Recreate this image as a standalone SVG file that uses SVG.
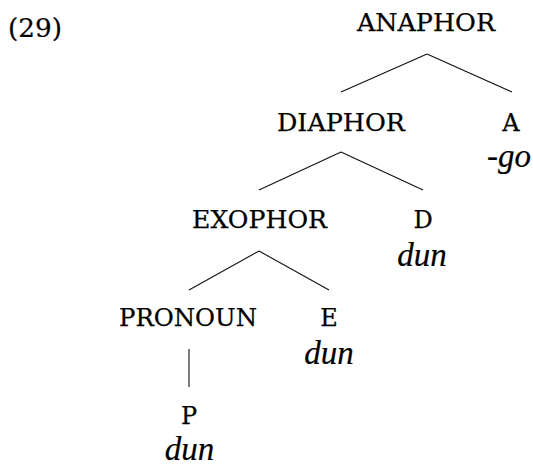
<svg xmlns="http://www.w3.org/2000/svg" width="533" height="466" viewBox="0 0 533 466">
<style>
.lbl{font-family:"DejaVu Serif","Liberation Serif",serif;font-size:24px;fill:#000;stroke:#000;stroke-width:0.25;text-anchor:middle}
.it{font-family:"Liberation Serif","DejaVu Serif",serif;font-style:italic;font-size:33px;fill:#000;stroke:#000;stroke-width:0.2;text-anchor:middle}
.num{font-family:"DejaVu Serif","Liberation Serif",serif;font-size:26px;fill:#000;stroke:#000;stroke-width:0.2}
.edge{stroke:#111;stroke-width:1.1;fill:none}
</style>
<rect width="533" height="466" fill="#fff"/>
<text class="num" x="8" y="37" textLength="54" lengthAdjust="spacingAndGlyphs">(29)</text>
<g id="connectors">
<path class="edge" d="M427,54 L341,92 M427,54 L512,92"/>
<path class="edge" d="M341,152 L259,190 M341,152 L423,190"/>
<path class="edge" d="M259,251 L189,290 M259,251 L329,290"/>
<path class="edge" d="M189,349 L189,387"/>
</g>
<g id="anaphor"><text class="lbl" x="426" y="31" textLength="138" lengthAdjust="spacingAndGlyphs">ANAPHOR</text></g>
<g id="diaphor"><text class="lbl" x="341" y="131" textLength="128" lengthAdjust="spacingAndGlyphs">DIAPHOR</text></g>
<g id="a"><text class="lbl" x="511" y="131">A</text><text class="it" x="509" y="167">-go</text></g>
<g id="exophor"><text class="lbl" x="259.5" y="228" textLength="135" lengthAdjust="spacingAndGlyphs">EXOPHOR</text></g>
<g id="d"><text class="lbl" x="423" y="228">D</text><text class="it" x="422" y="266">dun</text></g>
<g id="pronoun"><text class="lbl" x="188" y="326" textLength="138" lengthAdjust="spacingAndGlyphs">PRONOUN</text></g>
<g id="e"><text class="lbl" x="329" y="326">E</text><text class="it" x="329" y="364">dun</text></g>
<g id="p"><text class="lbl" x="189" y="424">P</text><text class="it" x="189.5" y="460">dun</text></g>
</svg>
